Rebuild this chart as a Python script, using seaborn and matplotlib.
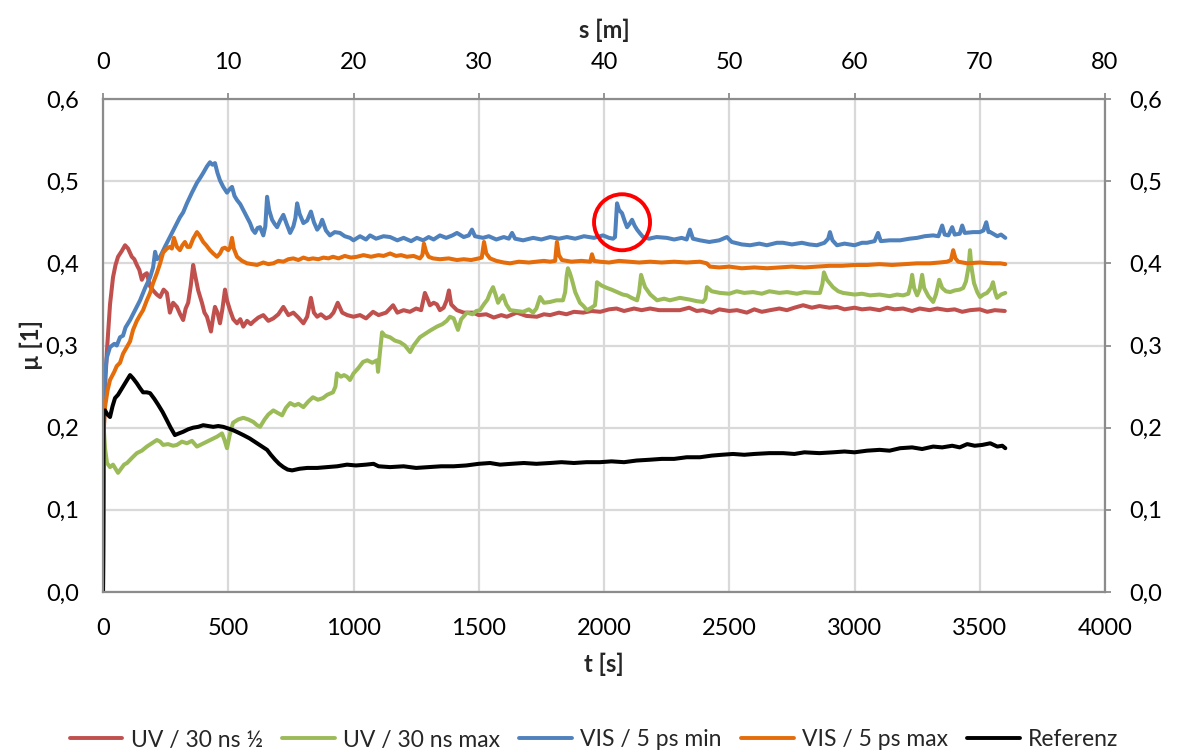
import numpy as np
import pandas as pd
import matplotlib
matplotlib.use("Agg")
import matplotlib.pyplot as plt
from matplotlib.patches import Ellipse
from matplotlib.ticker import FuncFormatter, MultipleLocator, FixedLocator
import seaborn as sns

# ---- measured friction coefficient curves (time in s, mu in 1) ----
uv_half_t = [0, 4, 10, 16, 28, 40, 50, 60, 75, 88, 100, 115, 125, 135, 145, 155, 165, 175, 188, 200,
             215, 228, 242, 255, 267, 280, 295, 308, 320, 330, 340, 350, 360, 368, 380, 395, 405, 415,
             431, 440, 447, 457, 467, 477, 487, 495, 507, 520, 535, 548, 560, 575, 590, 600, 620, 640,
             660, 680, 700, 720, 740, 760, 780, 800, 815, 830, 842, 855, 870, 890, 906, 920, 937, 955,
             975, 1000, 1026, 1050, 1078, 1100, 1130, 1158, 1175, 1200, 1225, 1250, 1270, 1285, 1295,
             1305, 1320, 1333, 1345, 1360, 1372, 1381, 1390, 1413, 1440, 1477, 1500, 1530, 1560, 1590,
             1612, 1652, 1690, 1732, 1760, 1785, 1820, 1850, 1880, 1917, 1950, 1985, 2020, 2050, 2080,
             2120, 2150, 2184, 2220, 2260, 2303, 2340, 2370, 2395, 2430, 2460, 2500, 2531, 2570, 2600,
             2630, 2663, 2700, 2730, 2760, 2795, 2830, 2860, 2900, 2930, 2960, 3000, 3030, 3062, 3100,
             3130, 3160, 3194, 3230, 3260, 3300, 3330, 3370, 3400, 3430, 3461, 3500, 3530, 3560, 3600]
uv_half_mu = [0.0, 0.20, 0.26, 0.295, 0.35, 0.383, 0.398, 0.408, 0.415, 0.422, 0.418, 0.408, 0.405,
              0.398, 0.392, 0.380, 0.386, 0.388, 0.372, 0.367, 0.362, 0.359, 0.368, 0.364, 0.340, 0.352,
              0.347, 0.338, 0.331, 0.345, 0.352, 0.372, 0.398, 0.385, 0.367, 0.352, 0.340, 0.335, 0.317,
              0.335, 0.347, 0.340, 0.327, 0.345, 0.368, 0.355, 0.343, 0.332, 0.327, 0.332, 0.323, 0.330,
              0.326, 0.329, 0.334, 0.337, 0.330, 0.333, 0.338, 0.347, 0.337, 0.340, 0.334, 0.327, 0.335,
              0.358, 0.340, 0.335, 0.338, 0.333, 0.335, 0.340, 0.352, 0.340, 0.337, 0.335, 0.337, 0.333,
              0.341, 0.337, 0.340, 0.349, 0.340, 0.343, 0.341, 0.345, 0.343, 0.364, 0.357, 0.349, 0.352,
              0.350, 0.343, 0.346, 0.355, 0.367, 0.350, 0.343, 0.340, 0.340, 0.337, 0.338, 0.334, 0.337,
              0.335, 0.340, 0.336, 0.335, 0.338, 0.337, 0.340, 0.338, 0.341, 0.340, 0.342, 0.341, 0.344,
              0.345, 0.342, 0.345, 0.343, 0.345, 0.343, 0.343, 0.343, 0.346, 0.342, 0.343, 0.340, 0.344,
              0.342, 0.343, 0.340, 0.344, 0.341, 0.343, 0.345, 0.343, 0.346, 0.349, 0.346, 0.348, 0.346,
              0.347, 0.344, 0.346, 0.344, 0.345, 0.343, 0.346, 0.344, 0.345, 0.342, 0.345, 0.343, 0.345,
              0.343, 0.344, 0.341, 0.343, 0.344, 0.341, 0.343, 0.342]

uv_max_t = [0, 3, 8, 16, 28, 40, 50, 60, 72, 84, 96, 115, 135, 155, 175, 195, 215, 228, 240, 260, 280,
            295, 315, 335, 355, 375, 395, 415, 435, 455, 475, 485, 495, 505, 519, 540, 560, 580, 600, 615,
            627, 645, 660, 680, 697, 715, 730, 747, 765, 780, 800, 820, 838, 858, 878, 895, 918, 928, 934,
            950, 962, 974, 986, 1000, 1018, 1038, 1055, 1075, 1094, 1098, 1105, 1114, 1125, 1146, 1165,
            1186, 1205, 1226, 1240, 1265, 1285, 1305, 1333, 1355, 1372, 1385, 1400, 1417, 1430, 1453, 1475,
            1490, 1505, 1520, 1535, 1545, 1557, 1567, 1577, 1587, 1597, 1610, 1625, 1650, 1677, 1700, 1717,
            1730, 1745, 1760, 1785, 1810, 1836, 1845, 1851, 1856, 1864, 1872, 1885, 1904, 1918, 1932, 1950,
            1964, 1968, 1972, 1990, 2012, 2030, 2052, 2075, 2092, 2110, 2132, 2140, 2148, 2156, 2164, 2185,
            2212, 2240, 2263, 2303, 2340, 2370, 2395, 2405, 2411, 2430, 2463, 2500, 2530, 2560, 2595, 2630,
            2660, 2700, 2731, 2770, 2800, 2840, 2862, 2872, 2878, 2890, 2914, 2935, 2954, 3000, 3030, 3062,
            3100, 3140, 3170, 3194, 3215, 3225, 3230, 3238, 3250, 3260, 3270, 3278, 3295, 3314, 3325, 3338,
            3350, 3365, 3382, 3400, 3420, 3434, 3445, 3455, 3461, 3467, 3477, 3490, 3501, 3515, 3529, 3545,
            3553, 3561, 3569, 3585, 3602]
uv_max_mu = [0.0, 0.20, 0.175, 0.157, 0.152, 0.155, 0.150, 0.145, 0.150, 0.155, 0.157, 0.163, 0.169,
             0.172, 0.177, 0.181, 0.185, 0.183, 0.179, 0.180, 0.178, 0.179, 0.183, 0.181, 0.184, 0.177,
             0.180, 0.183, 0.186, 0.189, 0.193, 0.185, 0.175, 0.190, 0.206, 0.210, 0.212, 0.210, 0.207,
             0.203, 0.201, 0.210, 0.216, 0.221, 0.218, 0.215, 0.224, 0.230, 0.227, 0.229, 0.225, 0.232,
             0.237, 0.234, 0.236, 0.240, 0.243, 0.250, 0.266, 0.262, 0.264, 0.262, 0.258, 0.266, 0.272,
             0.280, 0.282, 0.279, 0.282, 0.268, 0.290, 0.316, 0.312, 0.310, 0.306, 0.304, 0.300, 0.292,
             0.300, 0.310, 0.314, 0.318, 0.323, 0.326, 0.330, 0.335, 0.333, 0.319, 0.332, 0.340, 0.338,
             0.342, 0.343, 0.350, 0.356, 0.364, 0.371, 0.362, 0.352, 0.357, 0.361, 0.350, 0.343, 0.342,
             0.341, 0.344, 0.340, 0.345, 0.359, 0.352, 0.353, 0.355, 0.355, 0.365, 0.385, 0.394, 0.388,
             0.380, 0.365, 0.352, 0.348, 0.343, 0.346, 0.349, 0.360, 0.377, 0.373, 0.370, 0.368, 0.365,
             0.362, 0.361, 0.358, 0.355, 0.365, 0.386, 0.378, 0.371, 0.362, 0.355, 0.357, 0.355, 0.358,
             0.356, 0.354, 0.353, 0.357, 0.371, 0.366, 0.364, 0.363, 0.366, 0.364, 0.365, 0.363, 0.366,
             0.364, 0.365, 0.363, 0.365, 0.364, 0.364, 0.375, 0.389, 0.380, 0.371, 0.366, 0.364, 0.362,
             0.363, 0.361, 0.362, 0.360, 0.362, 0.361, 0.363, 0.375, 0.386, 0.370, 0.361, 0.368, 0.386,
             0.370, 0.360, 0.353, 0.362, 0.380, 0.370, 0.366, 0.365, 0.367, 0.368, 0.370, 0.378, 0.395,
             0.416, 0.395, 0.376, 0.365, 0.359, 0.362, 0.364, 0.370, 0.377, 0.365, 0.358, 0.362, 0.364]

vis_min_t = [0, 3, 8, 15, 28, 45, 55, 68, 80, 90, 108, 128, 148, 168, 188, 200, 208, 215, 228, 247, 267,
             287, 307, 320, 335, 355, 375, 390, 400, 415, 427, 437, 447, 457, 467, 480, 495, 505, 515, 525,
             535, 548, 560, 575, 587, 597, 607, 617, 627, 640, 648, 655, 663, 675, 685, 695, 707, 720, 733,
             747, 760, 768, 775, 785, 800, 815, 830, 842, 855, 865, 875, 890, 906, 925, 946, 965, 986, 1000,
             1026, 1050, 1066, 1090, 1120, 1146, 1175, 1200, 1230, 1253, 1278, 1300, 1320, 1345, 1370, 1395,
             1413, 1440, 1460, 1473, 1485, 1517, 1540, 1570, 1600, 1620, 1633, 1645, 1677, 1717, 1750, 1785,
             1820, 1852, 1885, 1920, 1960, 1996, 2020, 2036, 2044, 2052, 2060, 2072, 2082, 2092, 2102, 2112,
             2122, 2132, 2145, 2156, 2180, 2210, 2251, 2280, 2310, 2330, 2343, 2355, 2383, 2420, 2460, 2491,
             2510, 2550, 2583, 2620, 2650, 2690, 2715, 2750, 2790, 2820, 2850, 2880, 2895, 2902, 2912, 2930,
             2960, 3000, 3030, 3050, 3080, 3094, 3105, 3140, 3182, 3220, 3250, 3280, 3314, 3335, 3350, 3360,
             3375, 3390, 3400, 3420, 3430, 3440, 3474, 3500, 3515, 3526, 3535, 3542, 3570, 3585, 3602]
vis_min_mu = [0.0, 0.22, 0.265, 0.285, 0.298, 0.302, 0.300, 0.310, 0.312, 0.322, 0.331, 0.343, 0.355,
              0.370, 0.383, 0.395, 0.414, 0.405, 0.408, 0.420, 0.432, 0.444, 0.456, 0.462, 0.473, 0.486,
              0.498, 0.505, 0.510, 0.518, 0.523, 0.520, 0.522, 0.510, 0.501, 0.493, 0.486, 0.490, 0.493,
              0.482, 0.477, 0.472, 0.465, 0.456, 0.449, 0.441, 0.437, 0.443, 0.444, 0.434, 0.445, 0.481,
              0.465, 0.453, 0.448, 0.444, 0.452, 0.459, 0.448, 0.437, 0.445, 0.455, 0.473, 0.460, 0.449,
              0.452, 0.463, 0.450, 0.441, 0.445, 0.453, 0.440, 0.434, 0.438, 0.437, 0.433, 0.431, 0.428,
              0.433, 0.429, 0.434, 0.430, 0.433, 0.432, 0.428, 0.431, 0.427, 0.431, 0.428, 0.432, 0.429,
              0.434, 0.431, 0.434, 0.437, 0.432, 0.434, 0.441, 0.433, 0.431, 0.433, 0.429, 0.432, 0.430,
              0.437, 0.430, 0.428, 0.431, 0.429, 0.432, 0.430, 0.432, 0.430, 0.433, 0.431, 0.434, 0.431,
              0.430, 0.432, 0.473, 0.465, 0.461, 0.452, 0.444, 0.448, 0.453, 0.446, 0.441, 0.436, 0.432,
              0.430, 0.432, 0.431, 0.429, 0.431, 0.429, 0.441, 0.430, 0.428, 0.426, 0.428, 0.432, 0.426,
              0.423, 0.422, 0.424, 0.422, 0.425, 0.425, 0.423, 0.425, 0.423, 0.422, 0.425, 0.430, 0.438,
              0.428, 0.422, 0.424, 0.422, 0.425, 0.425, 0.427, 0.437, 0.427, 0.428, 0.428, 0.430, 0.431,
              0.433, 0.434, 0.433, 0.446, 0.435, 0.434, 0.444, 0.435, 0.436, 0.446, 0.437, 0.438, 0.438,
              0.440, 0.450, 0.438, 0.438, 0.433, 0.435, 0.431]

vis_max_t = [0, 3, 8, 18, 28, 45, 55, 68, 80, 95, 108, 120, 135, 148, 160, 175, 188, 200, 215, 228, 240,
             255, 267, 275, 283, 295, 307, 317, 327, 337, 347, 360, 375, 385, 400, 412, 427, 440, 455, 467,
             477, 487, 500, 508, 515, 522, 535, 555, 575, 595, 615, 640, 660, 680, 700, 720, 740, 760, 780,
             800, 820, 838, 860, 880, 900, 918, 940, 965, 990, 1014, 1040, 1070, 1100, 1120, 1146, 1170,
             1190, 1213, 1240, 1265, 1275, 1281, 1290, 1300, 1317, 1345, 1380, 1413, 1440, 1470, 1500, 1512,
             1521, 1530, 1545, 1570, 1600, 1625, 1660, 1700, 1732, 1760, 1785, 1805, 1812, 1820, 1832, 1870,
             1910, 1945, 1952, 1960, 1984, 2020, 2060, 2100, 2140, 2184, 2230, 2280, 2330, 2383, 2410, 2423,
             2460, 2500, 2550, 2600, 2651, 2700, 2750, 2800, 2850, 2900, 2950, 3000, 3050, 3100, 3150, 3200,
             3250, 3300, 3340, 3370, 3385, 3394, 3403, 3414, 3450, 3500, 3550, 3582, 3602]
vis_max_mu = [0.0, 0.20, 0.225, 0.245, 0.258, 0.268, 0.275, 0.279, 0.290, 0.298, 0.305, 0.319, 0.330,
              0.337, 0.343, 0.355, 0.364, 0.376, 0.388, 0.400, 0.413, 0.418, 0.420, 0.418, 0.431, 0.420,
              0.416, 0.422, 0.426, 0.420, 0.420, 0.430, 0.438, 0.434, 0.426, 0.422, 0.416, 0.412, 0.408,
              0.412, 0.418, 0.419, 0.416, 0.420, 0.431, 0.418, 0.408, 0.403, 0.400, 0.399, 0.398, 0.401,
              0.399, 0.400, 0.403, 0.402, 0.405, 0.406, 0.404, 0.407, 0.405, 0.406, 0.405, 0.407, 0.406,
              0.408, 0.406, 0.409, 0.407, 0.408, 0.410, 0.408, 0.410, 0.409, 0.412, 0.409, 0.410, 0.408,
              0.409, 0.406, 0.410, 0.424, 0.414, 0.408, 0.406, 0.405, 0.406, 0.404, 0.405, 0.404, 0.406,
              0.407, 0.426, 0.412, 0.406, 0.403, 0.401, 0.400, 0.402, 0.401, 0.402, 0.403, 0.402, 0.403,
              0.426, 0.410, 0.404, 0.402, 0.403, 0.402, 0.411, 0.403, 0.402, 0.401, 0.403, 0.402, 0.401,
              0.402, 0.401, 0.402, 0.401, 0.402, 0.400, 0.396, 0.395, 0.396, 0.394, 0.395, 0.394, 0.395,
              0.396, 0.395, 0.396, 0.397, 0.397, 0.398, 0.398, 0.399, 0.398, 0.399, 0.400, 0.400, 0.401,
              0.402, 0.404, 0.416, 0.406, 0.402, 0.400, 0.401, 0.400, 0.400, 0.399]

ref_t = [0, 2, 8, 18, 28, 38, 48, 60, 76, 92, 108, 120, 135, 148, 160, 175, 188, 205, 220, 238, 255, 270,
         287, 303, 320, 340, 360, 380, 400, 420, 440, 460, 480, 500, 519, 540, 560, 585, 615, 635, 655, 670,
         687, 703, 720, 737, 755, 785, 815, 855, 895, 935, 974, 1010, 1050, 1080, 1100, 1146, 1200, 1250,
         1300, 1350, 1400, 1450, 1500, 1545, 1585, 1630, 1680, 1730, 1785, 1830, 1880, 1930, 1984, 2030,
         2080, 2130, 2184, 2230, 2280, 2330, 2383, 2430, 2470, 2515, 2560, 2600, 2660, 2715, 2760, 2800,
         2860, 2914, 2960, 3000, 3050, 3100, 3140, 3182, 3230, 3270, 3314, 3350, 3390, 3420, 3450, 3480,
         3510, 3542, 3570, 3590, 3602]
ref_mu = [0.0, 0.220, 0.221, 0.216, 0.213, 0.226, 0.236, 0.240, 0.248, 0.256, 0.264, 0.260, 0.254, 0.248,
          0.243, 0.243, 0.242, 0.235, 0.228, 0.219, 0.209, 0.200, 0.191, 0.193, 0.195, 0.198, 0.200, 0.201,
          0.203, 0.202, 0.201, 0.202, 0.201, 0.199, 0.197, 0.194, 0.191, 0.187, 0.181, 0.177, 0.173, 0.167,
          0.161, 0.156, 0.152, 0.149, 0.148, 0.150, 0.151, 0.151, 0.152, 0.153, 0.155, 0.154, 0.155, 0.156,
          0.153, 0.152, 0.153, 0.151, 0.152, 0.153, 0.153, 0.154, 0.156, 0.157, 0.155, 0.156, 0.157, 0.156,
          0.157, 0.158, 0.157, 0.158, 0.158, 0.159, 0.158, 0.160, 0.161, 0.162, 0.162, 0.164, 0.164, 0.166,
          0.167, 0.168, 0.167, 0.168, 0.169, 0.169, 0.168, 0.170, 0.169, 0.170, 0.171, 0.170, 0.172, 0.173,
          0.172, 0.175, 0.176, 0.174, 0.177, 0.176, 0.178, 0.176, 0.180, 0.178, 0.179, 0.181, 0.177, 0.178,
          0.175]

series_names = ["UV / 30 ns ½", "UV / 30 ns max", "VIS / 5 ps min", "VIS / 5 ps max", "Referenz"]
series_colors = ["#C0504D", "#9BBB59", "#4F81BD", "#E46C0A", "#000000"]

# tick values of the distance axis (m) and of the mu axes
s_ticks = [0, 10, 20, 30, 40, 50, 60, 70, 80]
mu_ticks = [0.0, 0.1, 0.2, 0.3, 0.4, 0.5, 0.6]

# marked event on the VIS / 5 ps min curve (centre t, centre mu)
marker_t = 2072
marker_mu = 0.450

frames = []
for name, t, mu in zip(series_names,
                       [uv_half_t, uv_max_t, vis_min_t, vis_max_t, ref_t],
                       [uv_half_mu, uv_max_mu, vis_min_mu, vis_max_mu, ref_mu]):
    frames.append(pd.DataFrame({"t": t, "mu": mu, "Serie": name}))
df = pd.concat(frames, ignore_index=True)

sns.set_theme(style="white")
plt.rcParams["font.family"] = ["Lato", "DejaVu Sans"]

fig = plt.figure(figsize=(11.78, 7.52), dpi=100)
ax = fig.add_axes([103 / 1178, 1 - 592 / 752, 1002 / 1178, 493 / 752])

spine_grey = "#8C8C8C"
grid_grey = "#D9D9D9"

sns.lineplot(data=df, x="t", y="mu", hue="Serie", hue_order=series_names,
             palette=dict(zip(series_names, series_colors)), estimator=None, sort=False,
             linewidth=2.9, ax=ax, legend=False)

ax.set_xlim(0, 4000)
ax.set_ylim(0, 0.6)
ax.xaxis.set_major_locator(MultipleLocator(500))
ax.yaxis.set_major_locator(FixedLocator(mu_ticks))
comma = FuncFormatter(lambda v, p: f"{v:.1f}".replace(".", ","))
ax.yaxis.set_major_formatter(comma)
ax.grid(True, color=grid_grey, linewidth=1.6)
ax.set_axisbelow(True)
for sp in ax.spines.values():
    sp.set_color(spine_grey)
    sp.set_linewidth(1.6)
tick_kw = dict(direction="inout", length=9, width=1.3, color=spine_grey, labelsize=17,
               labelcolor="black")
ax.tick_params(axis="x", pad=14, **tick_kw)
ax.tick_params(axis="y", pad=13, **tick_kw)
ax.set_xlabel("t [s]", fontsize=17, fontweight="bold", labelpad=10)
ax.set_ylabel("µ [1]", fontsize=17, fontweight="bold", labelpad=2)

# top axis: sliding distance
top = ax.secondary_xaxis("top", functions=(lambda t: t / 50.0, lambda s: s * 50.0))
top.xaxis.set_major_locator(FixedLocator(s_ticks))
top.tick_params(axis="x", pad=14, **tick_kw)
top.spines["top"].set_visible(False)
top.set_xlabel("s [m]", fontsize=17, fontweight="bold", labelpad=10)

# right axis mirrors mu
right = ax.secondary_yaxis("right")
right.yaxis.set_major_locator(FixedLocator(mu_ticks))
right.yaxis.set_major_formatter(comma)
right.tick_params(axis="y", pad=13, **tick_kw)
right.spines["right"].set_visible(False)

# red ring around the spike
px_per_t = 1002 / 4000
px_per_mu = 493 / 0.6
ring_px = 56
ax.add_patch(Ellipse((marker_t, marker_mu), ring_px / px_per_t, ring_px / px_per_mu,
                     fill=False, edgecolor="#FF0000", linewidth=2.8, zorder=10))

handles = [plt.Line2D([0], [0], color=c, linewidth=2.8) for c in series_colors]
fig.legend(handles, series_names, loc="center", bbox_to_anchor=(594 / 1178, 1 - 740 / 752), ncol=5,
           frameon=False, fontsize=16.5, handlelength=2.3, columnspacing=0.85, handletextpad=0.35)

fig.savefig("out.png", dpi=100)
